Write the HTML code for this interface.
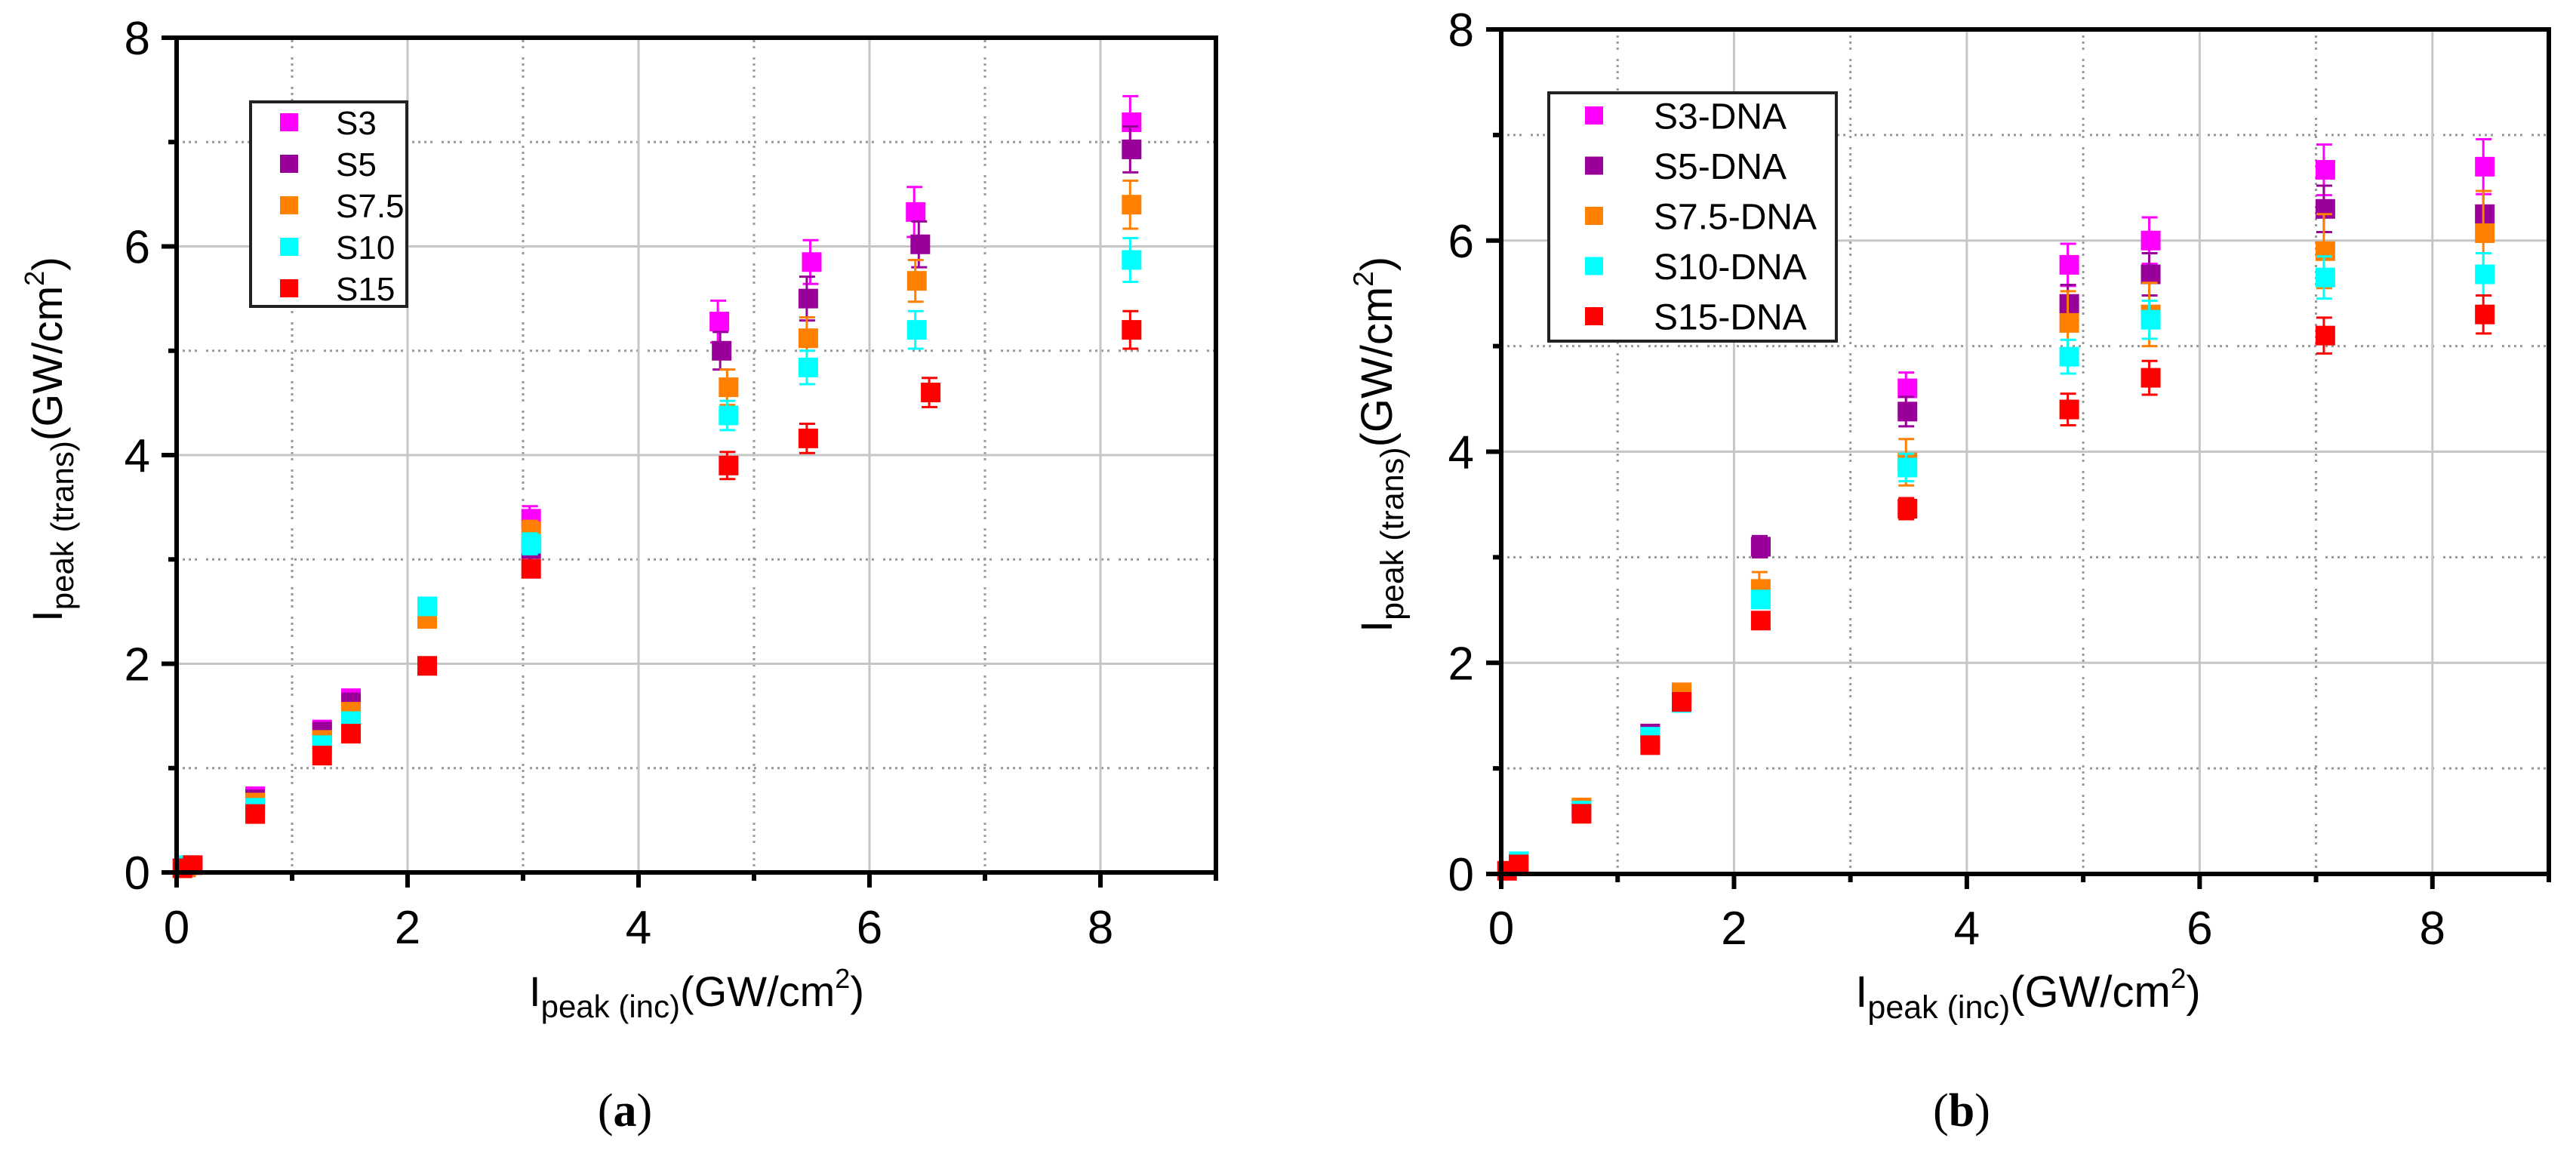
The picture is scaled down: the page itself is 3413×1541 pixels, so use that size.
<!DOCTYPE html>
<html><head><meta charset="utf-8">
<style>
html,body{margin:0;padding:0;background:#fff;}
svg{display:block;font-family:"Liberation Sans",Arial,sans-serif;}
</style></head>
<body>
<svg id="fig" width="3413" height="1541" viewBox="0 0 3413 1541" xmlns="http://www.w3.org/2000/svg"></svg>
<script>
// ---- Data: chart (a) ----
const seriesNamesA = ["S3","S5","S7.5","S10","S15"];
const xA_S3  = [0.08,0.68,1.26,1.51,2.17,3.07,4.70,5.50,6.40,8.27];
const yA_S3  = [0.05,0.73,1.37,1.67,2.55,3.39,5.28,5.85,6.33,7.19];
const eA_S3  = [0.02,0.03,0.04,0.04,0.08,0.12,0.20,0.21,0.24,0.25];
const xA_S5  = [0.08,0.68,1.26,1.51,2.17,3.07,4.72,5.47,6.44,8.27];
const yA_S5  = [0.05,0.70,1.35,1.63,2.50,3.10,5.00,5.50,6.02,6.93];
const eA_S5  = [0.02,0.03,0.04,0.04,0.08,0.12,0.18,0.21,0.22,0.22];
const xA_S75 = [0.08,0.68,1.26,1.51,2.17,3.07,4.78,5.47,6.41,8.27];
const yA_S75 = [0.05,0.67,1.27,1.54,2.43,3.27,4.65,5.12,5.67,6.40];
const eA_S75 = [0.02,0.03,0.04,0.04,0.08,0.10,0.17,0.20,0.20,0.23];
const xA_S10 = [0.08,0.68,1.26,1.51,2.17,3.07,4.78,5.47,6.41,8.27];
const yA_S10 = [0.07,0.62,1.22,1.45,2.55,3.15,4.38,4.84,5.20,5.87];
const eA_S10 = [0.02,0.03,0.04,0.04,0.06,0.10,0.14,0.16,0.18,0.21];
const xA_S15 = [0.05,0.14,0.68,1.26,1.51,2.17,3.07,4.78,5.47,6.53,8.27];
const yA_S15 = [0.04,0.07,0.56,1.12,1.33,1.98,2.91,3.90,4.16,4.60,5.20];
const eA_S15 = [0.01,0.02,0.03,0.04,0.04,0.05,0.08,0.13,0.14,0.14,0.18];

// ---- Data: chart (b) ----
const seriesNamesB = ["S3-DNA","S5-DNA","S7.5-DNA","S10-DNA","S15-DNA"];
const xB_S3  = [0.15,0.69,1.28,1.55,2.23,3.49,4.88,5.58,7.08,8.45];
const yB_S3  = [0.10,0.62,1.33,1.72,3.10,4.60,5.77,6.00,6.67,6.70];
const eB_S3  = [0.03,0.04,0.05,0.06,0.10,0.15,0.20,0.22,0.24,0.26];
const xB_S5  = [0.15,0.69,1.28,1.55,2.23,3.49,4.88,5.58,7.08,8.45];
const yB_S5  = [0.10,0.62,1.33,1.70,3.10,4.38,5.40,5.68,6.30,6.25];
const eB_S5  = [0.03,0.04,0.05,0.06,0.10,0.14,0.18,0.20,0.22,0.22];
const xB_S75 = [0.15,0.69,1.28,1.55,2.23,3.49,4.88,5.58,7.08,8.45];
const yB_S75 = [0.10,0.63,1.28,1.72,2.70,3.90,5.22,5.30,5.90,6.07];
const eB_S75 = [0.03,0.04,0.05,0.06,0.16,0.22,0.30,0.30,0.35,0.40];
const xB_S10 = [0.15,0.69,1.28,1.55,2.23,3.49,4.88,5.58,7.08,8.45];
const yB_S10 = [0.12,0.60,1.30,1.62,2.60,3.85,4.90,5.25,5.65,5.68];
const eB_S10 = [0.03,0.04,0.05,0.06,0.08,0.13,0.16,0.18,0.20,0.20];
const xB_S15 = [0.05,0.15,0.69,1.28,1.55,2.23,3.49,4.88,5.58,7.08,8.45];
const yB_S15 = [0.03,0.09,0.57,1.22,1.63,2.40,3.46,4.40,4.70,5.10,5.30];
const eB_S15 = [0.01,0.03,0.04,0.04,0.05,0.07,0.10,0.15,0.16,0.17,0.18];

const seriesColors = ["#ff00ff","#990099","#ff8000","#00ffff","#ff0000"];
const xTickLabels = ["0","2","4","6","8"];
const yTickLabels = ["0","2","4","6","8"];

const NS = "http://www.w3.org/2000/svg";
const svg = document.getElementById("fig");
function mk(tag, attrs, parent){
  const el = document.createElementNS(NS, tag);
  for (const k in attrs) el.setAttribute(k, attrs[k]);
  (parent||svg).appendChild(el);
  return el;
}

function drawChart(c){
  const g = mk("g", {});
  
  
  const sx = v => c.x0 + v*(c.x1 - c.x0)/9;
  const sy = v => c.y0 - v*(c.y0 - c.y8)/8;
  for (let i=1;i<9;i+=2){
    const l = mk("line",{x1:sx(i),x2:sx(i),y1:sy(0),y2:sy(8),stroke:"#999","stroke-width":3,"stroke-dasharray":"3 5 3 5 3 5 3 12"},g);
    
    
  }
  for (let i=1;i<8;i+=2){
    const l = mk("line",{x1:sx(0),x2:sx(9),y1:sy(i),y2:sy(i),stroke:"#999","stroke-width":3,"stroke-dasharray":"3 5 3 5 3 5 3 12"},g);
    
    
  }
  for (let i=2;i<9;i+=2){
    const l = mk("line",{x1:sx(i),x2:sx(i),y1:sy(0),y2:sy(8),stroke:"#c6c6c6","stroke-width":3},g);
    
    
  }
  for (let i=2;i<8;i+=2){
    const l = mk("line",{x1:sx(0),x2:sx(9),y1:sy(i),y2:sy(i),stroke:"#c6c6c6","stroke-width":3},g);
    
    
  }
  const ms = 26;
  c.series.forEach((s, si) => {
    const sg = mk("g",{},g);
    
    
    for (let i=0;i<s.x.length;i++){
      const cx = sx(s.x[i]), cy = sy(s.y[i]);
      const top = sy(s.y[i]+s.e[i]), bot = sy(s.y[i]-s.e[i]);
      const eb = mk("path",{d:`M${cx-2},${top}V${bot}M${cx-12},${top}H${cx+9}M${cx-12},${bot}H${cx+9}`,stroke:seriesColors[si],"stroke-width":3,fill:"none"},sg);
      
      
      const r = mk("rect",{x:cx-ms/2,y:cy-ms/2,width:ms,height:ms,fill:seriesColors[si]},sg);
      
      
    }
  });
  const fr = mk("rect",{x:sx(0),y:sy(8),width:sx(9)-sx(0),height:sy(0)-sy(8),fill:"none",stroke:"#000","stroke-width":6},g);
  
  
  for (let i=0;i<=9;i++){
    const len = i%2===0 ? 20 : 11;
    const t = mk("line",{x1:sx(i),x2:sx(i),y1:sy(0),y2:sy(0)+len,stroke:"#000","stroke-width":6},g);
    
    
  }
  for (let i=0;i<=8;i++){
    const len = i%2===0 ? 20 : 11;
    const t = mk("line",{x1:sx(0)-len,x2:sx(0),y1:sy(i),y2:sy(i),stroke:"#000","stroke-width":6},g);
    
    
  }
  xTickLabels.forEach((lab,i)=>{
    const t = mk("text",{x:sx(i*2),y:c.xLabY,"text-anchor":"middle","font-size":62,fill:"#000"},g);
    t.textContent = lab;
    
    
  });
  yTickLabels.forEach((lab,i)=>{
    const t = mk("text",{x:c.yLabX,y:sy(i*2)+22,"text-anchor":"end","font-size":62,fill:"#000"},g);
    t.textContent = lab;
    
    
  });
  const lg = mk("g",{},g);
  
  
  const lb = mk("rect",{x:c.leg.x,y:c.leg.y,width:c.leg.w,height:c.leg.h,fill:"#fff",stroke:"#222","stroke-width":4},lg);
  
  
  c.names.forEach((n,i)=>{
    const yy = c.leg.row0 + i*c.leg.dy;
    const m = mk("rect",{x:c.leg.mx-12,y:yy-12,width:24,height:24,fill:seriesColors[i]},lg);
    
    
    const t = mk("text",{x:c.leg.tx,y:yy+c.leg.fs*0.36,"font-size":c.leg.fs,fill:"#000"},lg);
    t.textContent = n;
    
    
  });
}

drawChart({id:"a",x0:234,x1:1611,y0:1156,y8:50,xLabY:1250,yLabX:199,names:seriesNamesA,
  series:[{x:xA_S3,y:yA_S3,e:eA_S3},{x:xA_S5,y:yA_S5,e:eA_S5},{x:xA_S75,y:yA_S75,e:eA_S75},{x:xA_S10,y:yA_S10,e:eA_S10},{x:xA_S15,y:yA_S15,e:eA_S15}],
  leg:{x:332,y:135,w:207,h:271,mx:383,tx:445,row0:162,dy:55,fs:44}});
drawChart({id:"b",x0:1989,x1:3377,y0:1158,y8:39,xLabY:1251,yLabX:1953,names:seriesNamesB,
  series:[{x:xB_S3,y:yB_S3,e:eB_S3},{x:xB_S5,y:yB_S5,e:eB_S5},{x:xB_S75,y:yB_S75,e:eB_S75},{x:xB_S10,y:yB_S10,e:eB_S10},{x:xB_S15,y:yB_S15,e:eB_S15}],
  leg:{x:2052,y:123,w:381,h:329,mx:2112,tx:2191,row0:153,dy:66.5,fs:48}});
</script>
<svg style="position:absolute;left:0;top:0" width="3413" height="1541">
  <text x="923" y="1333" text-anchor="middle" font-size="56" font-family="Liberation Sans, sans-serif">I<tspan font-size="42" dy="15">peak (inc)</tspan><tspan dy="-15">(GW/cm</tspan><tspan font-size="36" dy="-24">2</tspan><tspan dy="24">)</tspan></text>
  <text transform="translate(82,582) rotate(-90)" text-anchor="middle" font-size="56" font-family="Liberation Sans, sans-serif">I<tspan font-size="42" dy="15">peak (trans)</tspan><tspan dy="-15">(GW/cm</tspan><tspan font-size="36" dy="-24">2</tspan><tspan dy="24">)</tspan></text>
  <text x="2687" y="1334" text-anchor="middle" font-size="58" font-family="Liberation Sans, sans-serif">I<tspan font-size="43" dy="15">peak (inc)</tspan><tspan dy="-15">(GW/cm</tspan><tspan font-size="37" dy="-25">2</tspan><tspan dy="25">)</tspan></text>
  <text transform="translate(1844,589) rotate(-90)" text-anchor="middle" font-size="58" font-family="Liberation Sans, sans-serif">I<tspan font-size="43" dy="15">peak (trans)</tspan><tspan dy="-15">(GW/cm</tspan><tspan font-size="37" dy="-25">2</tspan><tspan dy="25">)</tspan></text>
  <text x="828" y="1492" text-anchor="middle" font-size="62" font-family="Liberation Serif, serif">(<tspan font-weight="bold">a</tspan>)</text>
  <text x="2599" y="1492" text-anchor="middle" font-size="62" font-family="Liberation Serif, serif">(<tspan font-weight="bold">b</tspan>)</text>
</svg>
</body></html>
